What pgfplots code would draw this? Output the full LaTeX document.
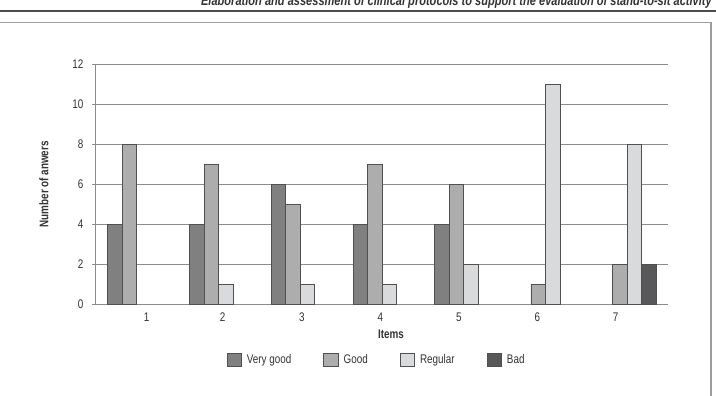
\documentclass[border=0pt]{standalone}
\usepackage{pgfplots}
\pgfplotsset{compat=1.18}
\usepackage{fontspec}
\setmainfont{Liberation Sans}[FakeStretch=0.79]
\definecolor{vgood}{HTML}{808080}
\definecolor{good}{HTML}{ADADAD}
\definecolor{regular}{HTML}{D9DADB}
\definecolor{bad}{HTML}{58585A}
\definecolor{edge}{HTML}{505050}
\definecolor{gridc}{HTML}{8C8C8C}
\definecolor{txt}{HTML}{333333}
\newcommand{\chartfont}{\fontsize{12.5}{14}\selectfont}
\pgfplotsset{sqleg/.style={legend image code/.code={\draw[##1] (0pt,-6.5pt) rectangle (14.5pt,6.5pt);}}}
\begin{document}
\begin{tikzpicture}[x=1pt,y=1pt]
\path[fill=white] (0,0) rectangle (716,-396);
\begin{scope}[overlay]
\draw[color=black!70, line width=1.2pt] (-5,-11) -- (725,-11);
\draw[color=black!38, line width=1.3pt] (-3,-22.5) -- (711,-22.5) -- (711,-400);
\node[anchor=base east, inner sep=0pt, font=\fontsize{14}{16}\selectfont\bfseries\itshape, text=txt] at (712,-6) {Elaboration and assessment of clinical protocols to support the evaluation of stand-to-sit activity};
\end{scope}
\begin{axis}[
  at={(96pt,-304.3pt)}, anchor=south west,
  scale only axis, width=572pt, height=240pt,
  xmin=0.5, xmax=7.5, ymin=0, ymax=12,
  ytick={0,2,...,12},
  xtick={1.12,2.05,3.02,3.98,4.94,5.90,6.86},
  xticklabels={1,2,3,4,5,6,7},
  ybar=0pt, bar width=14.5pt,
  axis x line*=bottom, axis y line*=left,
  axis line style={-, draw=gridc, line width=1pt},
  ymajorgrids, grid style={draw=gridc, line width=1pt},
  xtick style={draw=none},
  ytick style={draw=gridc, line width=1pt},
  tick align=outside, major tick length=4pt,
  /pgf/number format/assume math mode=true,
  tick label style={font=\chartfont, text=txt},
  xticklabel style={yshift=-0.8pt},
  yticklabel style={xshift=-5pt},
  xlabel={Items},
  ylabel={Number of anwers},
  every axis x label/.style={at={(rel axis cs:0.5157,-0.124)}, anchor=center, font=\chartfont\bfseries, text=txt},
  every axis y label/.style={at={(rel axis cs:-0.0909,0.5)}, anchor=center, rotate=90, font=\chartfont\bfseries, text=txt},
  legend columns=4,
  legend style={draw=none, fill=none, at={(rel axis cs:0.4904,-0.232)}, anchor=center,
    font=\chartfont, text=txt,
    /tikz/every even column/.append style={column sep=30pt},
    /tikz/every odd column/.append style={column sep=3pt}},
  every axis plot/.append style={draw=edge, line width=0.8pt},
]
\addplot[fill=vgood, sqleg] coordinates {(1,4) (2,4) (3,6) (4,4) (5,4)};
\addplot[fill=good, sqleg] coordinates {(1,8) (2,7) (3,5) (4,7) (5,6) (6,1) (7,2)};
\addplot[fill=regular, sqleg] coordinates {(2,1) (3,1) (4,1) (5,2) (6,11) (7,8)};
\addplot[fill=bad, sqleg] coordinates {(7,2)};
\legend{Very good, Good, Regular, Bad}
\end{axis}
\end{tikzpicture}
\end{document}
